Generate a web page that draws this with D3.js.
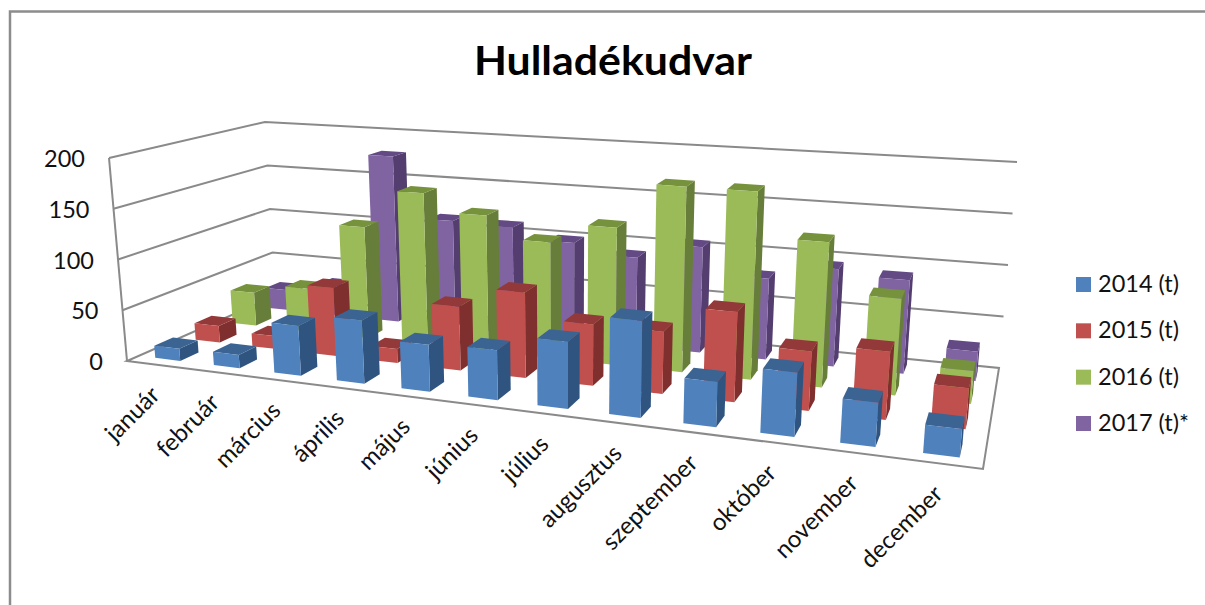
<!DOCTYPE html>
<html><head><meta charset="utf-8">
<style>html,body{margin:0;padding:0;background:#fff}svg{display:block}text{font-family:Lato,"Open Sans",sans-serif;fill:#111}</style>
<script src="https://cdn.jsdelivr.net/npm/d3@7"></script></head>
<body><svg id="c" width="1205" height="605"></svg>
<script>
const months=["január","február","március","április","május","június","július","augusztus","szeptember","október","november","december"];
const seriesNames=["2014 (t)","2015 (t)","2016 (t)","2017 (t)*"];
const v2014=[12,13,48,60,44,46,61,87,40,56,38,24];
const v2015=[17,13,68,14,62,82,58,58,83,54,61,36];
const v2016=[35,45,115,155,137,115,135,180,180,137,90,30];
const v2017=[22,32,178,113,111,100,90,106,80,95,90,28];
const valueTicks=[0,50,100,150,200];
const frontColors=["#4F81BD","#C0504D","#9BBB59","#8064A2"];
const sideColors=["#2F5480","#7F2F2D","#677E3A","#533E6F"];
const topColors=["#3B6493","#94393A","#76923C","#634A84"];

const svg=d3.select("#c");
function squareToQuad(q){
  const [[x0,y0],[x1,y1],[x2,y2],[x3,y3]]=q;
  const dx1=x1-x2,dx2=x3-x2,sx=x0-x1+x2-x3,dy1=y1-y2,dy2=y3-y2,sy=y0-y1+y2-y3;
  const den=dx1*dy2-dx2*dy1,g=(sx*dy2-dx2*sy)/den,h=(dx1*sy-sx*dy1)/den;
  const a=x1-x0+g*x1,b=x3-x0+h*x3,d=y1-y0+g*y1,e=y3-y0+h*y3;
  return (u,v)=>{const w=g*u+h*v+1;return [(a*u+b*v+x0)/w,(d*u+e*v+y0)/w];};
}
const floor=squareToQuad([[127,361],[983,469],[999,368],[275,296]]);
const warpK=1.04;
const warp=u=>warpK*u/(1+(warpK-1)*u);
const vp=[566,5316];
const wallH={fl:203,fr:240,br:206,bl:174};
const yScale=d3.scaleLinear().domain([0,200]).range([0,1]);
const xScale=d3.scaleBand().domain(months).range([0,1]).paddingInner(0.57).paddingOuter(0.285);
const zScale=d3.scaleBand().domain(seriesNames).range([0,1]).paddingInner(0.55).paddingOuter(0.275);
const proj=(u,v,val)=>{
  const U=warp(u),a=floor(U,v);
  const inv=(1-U)*(1-v)/wallH.fl+U*(1-v)/wallH.fr+U*v/wallH.br+(1-U)*v/wallH.bl;
  const up=yScale(val)/inv;
  return [a[0]+(a[0]-vp[0])/(vp[1]-a[1])*up,a[1]-up];
};
const line=d3.line();
const G="#8a8a8a";

svg.append("path").attr("d","M10 605V11.5H1205").attr("fill","none").attr("stroke","#8c8c8c").attr("stroke-width",2.5);
svg.append("path").attr("d",line([proj(0,0,0),proj(1,0,0),proj(1,1,0),proj(0,1,0)])+"Z").attr("fill","#fff").attr("stroke",G).attr("stroke-width",2);
svg.append("path").attr("d",line([proj(0,0,0),proj(0,0,200)])).attr("stroke",G).attr("stroke-width",2).attr("fill","none");
valueTicks.filter(d=>d>0).forEach(t=>{
  svg.append("path").attr("d",line([proj(0,0,t),proj(0,1,t),proj(1,1,t)])).attr("fill","none").attr("stroke",G).attr("stroke-width",2);
});
valueTicks.forEach(t=>{
  const p=proj(0,0,t);
  svg.append("text").attr("x",p[0]-24).attr("y",p[1]+9).attr("text-anchor","end").attr("font-size",23.5).text(t);
});
const all=[v2014,v2015,v2016,v2017];
d3.range(3,-1,-1).forEach(s=>{
  const name=seriesNames[s],z0=zScale(name),z1=z0+zScale.bandwidth();
  const g=svg.append("g");
  months.forEach((m,i)=>{
    const x0=xScale(m),x1=x0+xScale.bandwidth(),val=all[s][i];
    g.append("path").attr("fill",sideColors[s]).attr("d",line([proj(x1,z0,0),proj(x1,z1,0),proj(x1,z1,val),proj(x1,z0,val)])+"Z");
    g.append("path").attr("fill",topColors[s]).attr("d",line([proj(x0,z0,val),proj(x1,z0,val),proj(x1,z1,val),proj(x0,z1,val)])+"Z");
    g.append("path").attr("fill",frontColors[s]).attr("d",line([proj(x0,z0,0),proj(x1,z0,0),proj(x1,z0,val),proj(x0,z0,val)])+"Z");
  });
});
months.forEach(m=>{
  const p=proj(xScale(m)+xScale.bandwidth()/2,0,0);
  svg.append("text").attr("transform",`translate(${p[0]+5},${p[1]+32}) rotate(-45)`).attr("text-anchor","end").attr("font-size",24).text(m);
});
svg.append("text").attr("x",474).attr("y",75).attr("font-size",41).attr("font-weight",700).attr("textLength",278).attr("lengthAdjust","spacingAndGlyphs").style("fill","#000").text("Hulladékudvar");
const legendY=d3.scalePoint().domain(seriesNames).range([284,423]);
seriesNames.forEach((n,i)=>{
  const y=legendY(n);
  svg.append("rect").attr("x",1076).attr("y",y-7).attr("width",15).attr("height",15).attr("fill",frontColors[i]);
  svg.append("text").attr("x",1098).attr("y",y+8).attr("font-size",23.5).text(n);
});
</script></body></html>
